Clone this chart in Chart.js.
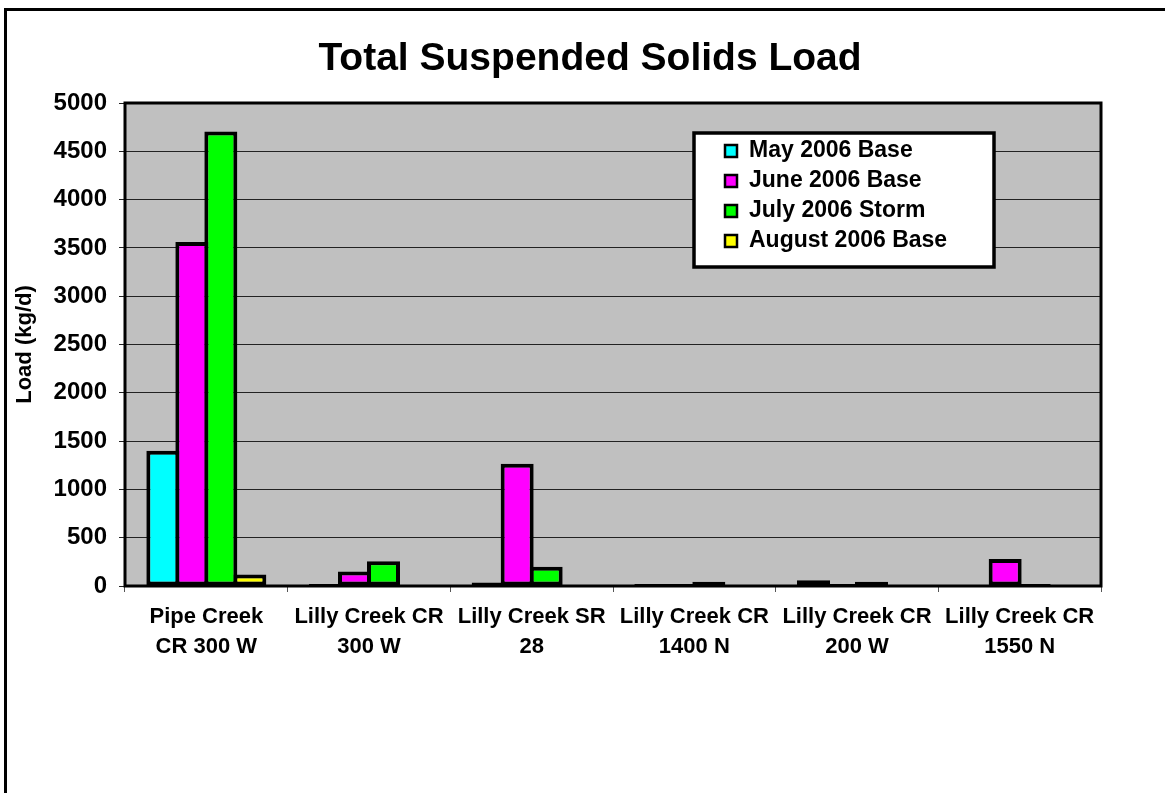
<!DOCTYPE html>
<html>
<head>
<meta charset="utf-8">
<script src="https://cdn.jsdelivr.net/npm/chart.js@4.4.1/dist/chart.umd.min.js"></script>
<style>
html,body{margin:0;padding:0;background:#fff;}
</style>
</head>
<body>
<canvas id="myChart" width="1165" height="793"></canvas>
<script>
// sites along the x axis (two lines each)
const sites = [
    ['Pipe Creek', 'CR 300 W'],
    ['Lilly Creek CR', '300 W'],
    ['Lilly Creek SR', '28'],
    ['Lilly Creek CR', '1400 N'],
    ['Lilly Creek CR', '200 W'],
    ['Lilly Creek CR', '1550 N']
];
const seriesNames = ['May 2006 Base', 'June 2006 Base', 'July 2006 Storm', 'August 2006 Base'];
const may2006 = [1400, 20, 35, 20, 60, 0];
const june2006 = [3560, 150, 1265, 20, 20, 280];
const july2006 = [4705, 255, 200, 45, 45, 20];
const aug2006 = [120, 0, 0, 0, 0, 0];
const yTicks = [0, 500, 1000, 1500, 2000, 2500, 3000, 3500, 4000, 4500, 5000];

const colors = ['#00ffff', '#ff00ff', '#00ff00', '#ffff00'];
const FONT = "'Liberation Sans', Arial, sans-serif";

const framePlugin = {
    id: 'frame',
    beforeDraw(chart) {
        const ctx = chart.ctx;
        const a = chart.chartArea;
        ctx.save();
        ctx.fillStyle = '#ffffff';
        ctx.fillRect(0, 0, chart.width, chart.height);
        // outer frame (only left and top edges show)
        ctx.strokeStyle = '#000';
        ctx.lineWidth = 3;
        ctx.beginPath();
        ctx.moveTo(5.5, chart.height);
        ctx.lineTo(5.5, 9.5);
        ctx.lineTo(chart.width, 9.5);
        ctx.stroke();
        // plot area
        ctx.fillStyle = '#c0c0c0';
        ctx.fillRect(a.left, a.top, a.right - a.left, a.bottom - a.top);
        // title
        ctx.fillStyle = '#000';
        ctx.font = 'bold 39px ' + FONT;
        ctx.textAlign = 'center';
        ctx.textBaseline = 'alphabetic';
        ctx.fillText('Total Suspended Solids Load', 590, 70);
        ctx.restore();
    },
    afterDatasetsDraw(chart) {
        const ctx = chart.ctx;
        const a = chart.chartArea;
        ctx.save();
        ctx.strokeStyle = '#000';
        ctx.lineWidth = 3;
        ctx.strokeRect(a.left, a.top, a.right - a.left, a.bottom - a.top);

        // legend box
        ctx.fillStyle = '#fff';
        ctx.fillRect(694, 133, 300, 134);
        ctx.lineWidth = 3.5;
        ctx.strokeRect(694, 133, 300, 134);
        ctx.font = 'bold 23px ' + FONT;
        ctx.textBaseline = 'middle';
        ctx.textAlign = 'left';
        chart.data.datasets.forEach((ds, i) => {
            const cy = 151 + i * 30;
            ctx.fillStyle = ds.backgroundColor;
            ctx.fillRect(725, cy - 6, 12, 12);
            ctx.lineWidth = 2.5;
            ctx.strokeStyle = '#000';
            ctx.strokeRect(725, cy - 6, 12, 12);
            ctx.fillStyle = '#000';
            ctx.fillText(ds.label, 749, cy);
        });
        ctx.restore();
    }
};

const series = [may2006, june2006, july2006, aug2006];
const ctx = document.getElementById('myChart').getContext('2d');
const myChart = new Chart(ctx, {
    type: 'bar',
    data: {
        labels: sites,
        datasets: series.map((vals, i) => ({
            label: seriesNames[i],
            data: vals,
            backgroundColor: colors[i],
            borderColor: '#000',
            borderWidth: 4,
            borderSkipped: false,
            categoryPercentage: 0.713,
            barPercentage: 1.138
        }))
    },
    options: {
        responsive: false,
        animation: false,
        devicePixelRatio: 1,
        layout: {
            padding: {left: 8, right: 64, top: 103, bottom: 0}
        },
        plugins: {
            legend: {display: false},
            title: {display: false},
            tooltip: {enabled: false}
        },
        scales: {
            x: {
                grid: {
                    offset: true,
                    drawOnChartArea: false,
                    drawTicks: true,
                    tickLength: 6,
                    color: '#555'
                },
                border: {display: false},
                ticks: {
                    color: '#000',
                    padding: 10,
                    maxRotation: 0,
                    autoSkip: false,
                    font: {family: FONT, size: 22, weight: 'bold', lineHeight: 1.36}
                },
                afterFit(scale) {
                    scale.height = 207;
                }
            },
            y: {
                min: 0,
                max: 5000,
                afterBuildTicks(scale) {
                    scale.ticks = yTicks.map(v => ({value: v}));
                },
                grid: {
                    color: '#222',
                    lineWidth: 1,
                    drawTicks: true,
                    tickLength: 6
                },
                border: {display: false},
                ticks: {
                    color: '#000',
                    padding: 12,
                    font: {family: FONT, size: 24, weight: 'bold'},
                    callback: (v) => String(v)
                },
                title: {
                    display: true,
                    text: 'Load (kg/d)',
                    color: '#000',
                    padding: {top: 4, bottom: 0},
                    font: {family: FONT, size: 22, weight: 'bold'}
                },
                afterFit(scale) {
                    scale.width = 117;
                }
            }
        }
    },
    plugins: [framePlugin]
});
</script>
</body>
</html>
